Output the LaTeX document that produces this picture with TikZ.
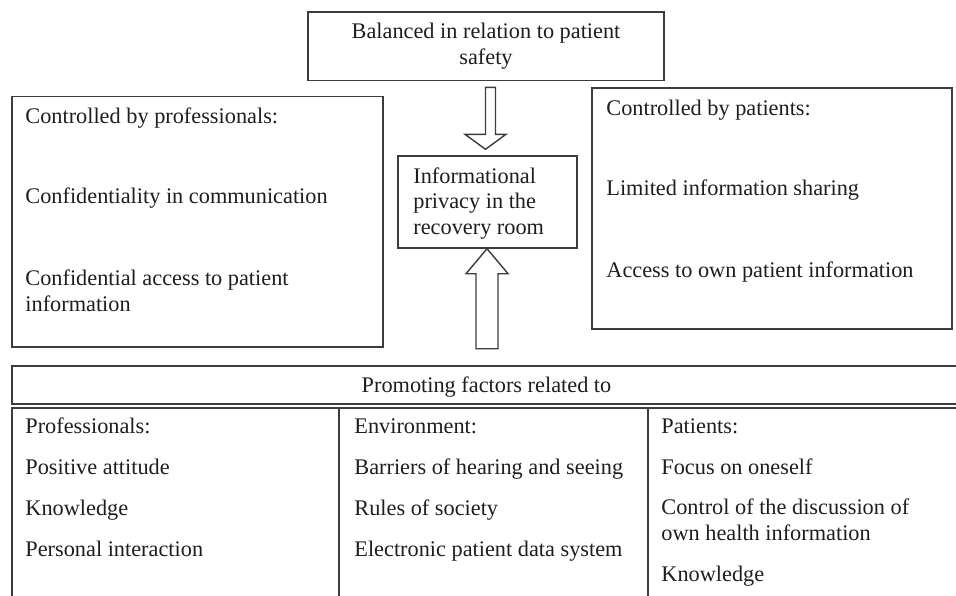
\documentclass[tikz,border=0pt]{standalone}
\usepackage{fontspec}
\setmainfont{Liberation Serif}
\usetikzlibrary{calc}
\definecolor{ln}{HTML}{3C3C3C}
\definecolor{tx}{HTML}{1E1E1E}
\begin{document}
\begin{tikzpicture}[x=0.5pt,y=-0.5pt,
  box/.style={draw=ln, line width=0.7pt, inner sep=0pt},
  txt/.style={inner sep=0pt, text=tx, font=\fontsize{11.15}{13}\selectfont},
  lw/.style={txt, anchor=base west},
  lc/.style={txt, anchor=base},
  blk/.style={draw=ln, line width=0.7pt, fill=white, line join=miter}]
\clip (0,0) rectangle (956,595);
\fill[white] (0,0) rectangle (956,595);

% boxes
\node[box, minimum width=178pt, minimum height=34.25pt] (top) at (486,46.25) {};
\node[box, minimum width=185.5pt, minimum height=125.25pt] (prof) at (197.5,221.75) {};
\node[box, minimum width=180pt, minimum height=120.5pt] (pat) at (772,208.5) {};
\node[box, minimum width=89.5pt, minimum height=46pt] (mid) at (487.5,202) {};

% table
\node[box, minimum width=475pt, minimum height=19pt] (head) at (487,385) {};
\node[box, minimum width=163.5pt, minimum height=106pt] (c1) at (175.5,514) {};
\node[box, minimum width=154.5pt, minimum height=106pt] (c2) at (493.5,514) {};
\node[box, minimum width=157pt, minimum height=106pt] (c3) at (805,514) {};

% block arrows
\draw[blk] ($(mid.north)+(-2,-6)$) -- ++(-20.5,-15) -- ++(20.5,0) -- ++(0,-47)
  -- ++(10,0) -- ++(0,47) -- ++(10.5,0) -- cycle;
\draw[blk] ($(mid.south)+(-0.5,0)$) -- ++(21,25) -- ++(-10,0) -- ++(0,75)
  -- ++(-22,0) -- ++(0,-75) -- ++(-10,0) -- cycle;

% top box text
\node[lc] (t1) at (486,38) {Balanced in relation to patient};
\node[lc] (t2) at (486,64) {safety};

% left box text
\node[lw] (p1) at (25,123) {Controlled by professionals:};
\node[lw] (p2) at (25,203) {Confidentiality in communication};
\node[lw] (p3) at (25,285) {Confidential access to patient};
\node[lw] (p4) at (25,311) {information};

% right box text
\node[lw] (q1) at (606,115) {Controlled by patients:};
\node[lw] (q2) at (606,195) {Limited information sharing};
\node[lw] (q3) at (606,277) {Access to own patient information};

% centre box text
\node[lw] (m1) at (413,183) {Informational};
\node[lw] (m2) at (413,208.5) {privacy in the};
\node[lw] (m3) at (413,234) {recovery room};

% table text
\node[lc] (h1) at (486.5,392) {Promoting factors related to};

\node[lw] (a1) at (25,433) {Professionals:};
\node[lw] (a2) at (25,474) {Positive attitude};
\node[lw] (a3) at (25,515) {Knowledge};
\node[lw] (a4) at (25,556) {Personal interaction};

\node[lw] (b1) at (354,433) {Environment:};
\node[lw] (b2) at (354,474) {Barriers of hearing and seeing};
\node[lw] (b3) at (354,515) {Rules of society};
\node[lw] (b4) at (354,556) {Electronic patient data system};

\node[lw] (d1) at (661,433) {Patients:};
\node[lw] (d2) at (661,474) {Focus on oneself};
\node[lw] (d3) at (661,514) {Control of the discussion of};
\node[lw] (d4) at (661,540) {own health information};
\node[lw] (d5) at (661,581) {Knowledge};
\end{tikzpicture}
\end{document}
